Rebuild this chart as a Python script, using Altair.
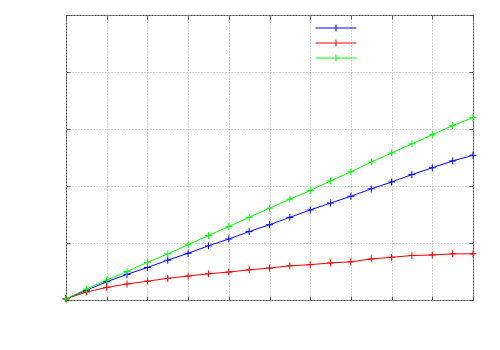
import altair as alt
import pandas as pd

x_vals = [i * 0.5 for i in range(21)]
series_names = ["s1", "s2", "s3"]
series_colors = ["#0000ff", "#ff0000", "#00ff00"]
blue = [0.02, 0.17, 0.32, 0.45, 0.57, 0.70, 0.82, 0.95, 1.07, 1.20, 1.32,
        1.45, 1.58, 1.70, 1.82, 1.95, 2.07, 2.20, 2.32, 2.44, 2.54]
red = [0.02, 0.14, 0.22, 0.28, 0.33, 0.38, 0.42, 0.46, 0.49, 0.53, 0.56,
       0.60, 0.62, 0.65, 0.67, 0.72, 0.75, 0.78, 0.79, 0.81, 0.81]
green = [0.02, 0.19, 0.35, 0.50, 0.66, 0.81, 0.97, 1.13, 1.29, 1.45, 1.61,
         1.77, 1.92, 2.09, 2.25, 2.42, 2.58, 2.74, 2.90, 3.06, 3.20]

rows = []
for name, vals in zip(series_names, [blue, red, green]):
    for xv, yv in zip(x_vals, vals):
        rows.append({"x": xv, "y": yv, "series": name})
df = pd.DataFrame(rows)

xs = alt.Scale(domain=[0, 10], nice=False)
ys = alt.Scale(domain=[0, 5], nice=False)
color = alt.Color(
    "series:N",
    scale=alt.Scale(domain=series_names, range=series_colors),
    legend=alt.Legend(
        title=None, orient="none", legendX=264, legendY=7,
        symbolType="M-4,0H4M0,-0.68V0.68", symbolSize=105,
        symbolStrokeWidth=1, symbolFillColor="transparent",
        labelExpr="''", labelFontSize=1, rowPadding=3, padding=0, labelOffset=0,
    ),
)

def xaxis(orient, grid):
    return alt.Axis(orient=orient, labels=False, title=None, grid=grid,
                    values=list(range(11)), tickSize=4, offset=-4, domain=False,
                    tickColor="#555555", gridColor="#b0b0b0", gridDash=[1, 2])

def yaxis(orient, grid):
    return alt.Axis(orient=orient, labels=False, title=None, grid=grid,
                    values=list(range(6)), tickSize=4, offset=-4, domain=False,
                    tickColor="#555555", gridColor="#b0b0b0", gridDash=[1, 2])

lines = alt.Chart(df).mark_line(strokeWidth=1).encode(
    x=alt.X("x:Q", scale=xs, axis=xaxis("bottom", True)),
    y=alt.Y("y:Q", scale=ys, axis=yaxis("left", True)),
    color=color,
    order="x:Q",
)
points = alt.Chart(df).mark_point(
    shape="M-1,0H1M0,-1V1", size=49, strokeWidth=1, filled=False, opacity=1
).encode(
    x=alt.X("x:Q", scale=xs, axis=xaxis("top", False)),
    y=alt.Y("y:Q", scale=ys, axis=yaxis("right", False)),
    color=color,
)

chart = alt.layer(lines, points).resolve_axis(x="independent", y="independent").properties(
    width=407, height=285,
    autosize=alt.AutoSizeParams(type="none"),
    padding={"left": 58, "top": 7, "right": 10, "bottom": 10},
).configure_view(stroke="#555555", strokeWidth=1)

chart.save("out.html", embed_options={"renderer": "svg", "actions": False})
